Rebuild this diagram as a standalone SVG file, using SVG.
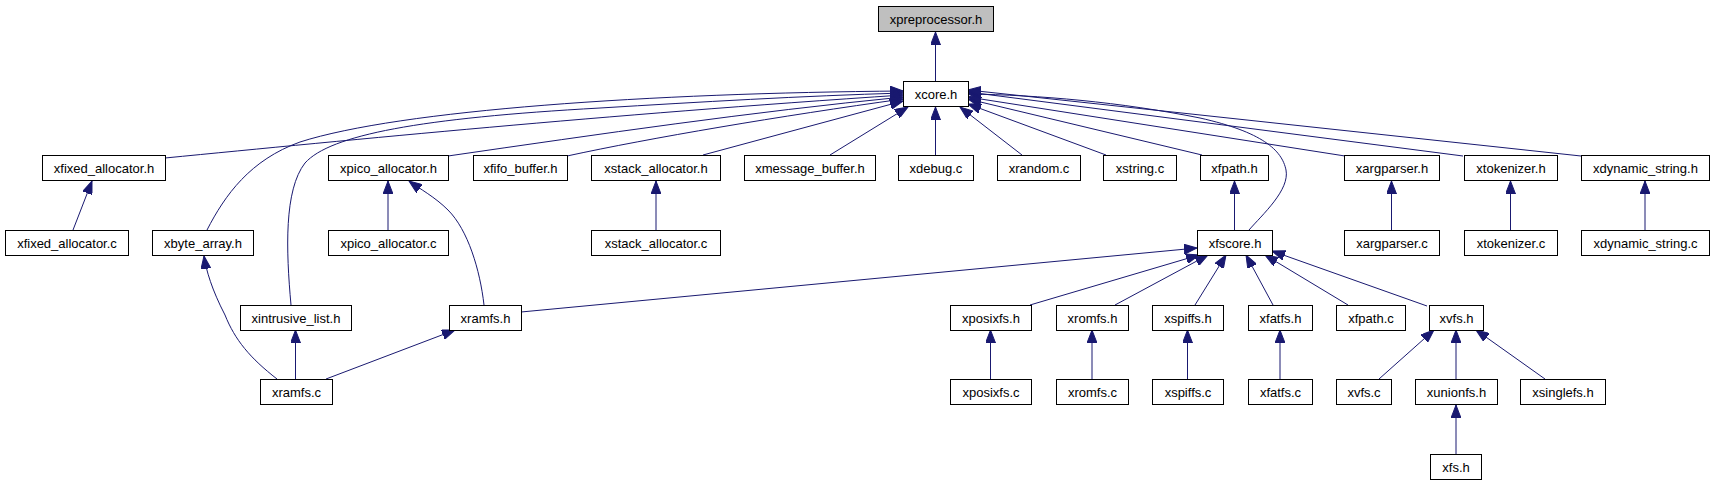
<svg xmlns="http://www.w3.org/2000/svg" width="1715" height="485" viewBox="0 0 1715 485">
<style>
.n rect{fill:#ffffff;stroke:#000000;stroke-width:1}
.n text{font-family:"Liberation Sans",Arial,sans-serif;font-size:13px;fill:#000000;text-anchor:middle}
#edges path{fill:none;stroke:#191970;stroke-width:1;marker-end:url(#arr)}
</style>
<defs>
<marker id="arr" markerUnits="userSpaceOnUse" markerWidth="14" markerHeight="10" refX="13" refY="5" orient="auto">
<path d="M0,0 L13,5 L0,10 z" fill="#191970" stroke="#191970" stroke-width="1"/>
</marker>
</defs>
<rect width="1715" height="485" fill="#ffffff"/>
<g id="edges">
<path d="M935.5,81 V32"/>
<path d="M207,230 C225,195 250,160 300,142 C400,110 650,93 903,91"/>
<path d="M291,305 C286,250 284,190 305,163 C330,135 420,118 600,108 C700,102 800,96 903,93"/>
<path d="M165,158 C350,140 600,115 903,95"/>
<path d="M448,156 C600,134 750,112 903,97"/>
<path d="M567,156 C650,138 780,116 903,99"/>
<path d="M703,155 L903,101"/>
<path d="M830,155 L908,107"/>
<path d="M935.5,155 V107"/>
<path d="M1022,155 L960,107"/>
<path d="M1106,155 L968,104"/>
<path d="M1202,155 L968,99"/>
<path d="M1249,230 C1262,215 1290,190 1286,170 C1282,150 1262,132 1200,118 C1120,102 1040,95 968,94"/>
<path d="M1345,156 L968,97"/>
<path d="M1463,156 L968,92"/>
<path d="M1581,156 L968,90"/>
<path d="M73,230 L92,181"/>
<path d="M388,230 V181"/>
<path d="M656,230 V181"/>
<path d="M484,305 C480,270 468,230 448,210 C435,197 420,189 409,181"/>
<path d="M277,379 C250,358 235,340 225,315 C212,290 206,270 204,256"/>
<path d="M295.5,379 V330"/>
<path d="M326,379 L455,330"/>
<path d="M521,312 L1197,248"/>
<path d="M1030,305 L1199,255"/>
<path d="M1115,305 L1208,255"/>
<path d="M1195,305 L1226,255"/>
<path d="M1273,305 L1246,255"/>
<path d="M1348,305 L1265,255"/>
<path d="M1427,306 L1272,251"/>
<path d="M990.5,379 V330"/>
<path d="M1092,379 V330"/>
<path d="M1187.5,379 V330"/>
<path d="M1280,379 V330"/>
<path d="M1379,379 L1434,330"/>
<path d="M1456,379 V330"/>
<path d="M1545,379 L1476,330"/>
<path d="M1456,454 V405"/>
<path d="M1234.5,230 V181"/>
<path d="M1391.5,230 V181"/>
<path d="M1510.5,230 V181"/>
<path d="M1645,230 V181"/>
</g>
<g id="xpreprocessor_h" class="n"><rect x="878.5" y="6.5" width="115" height="25" style="fill:#bfbfbf"/><text x="936" y="23.5">xpreprocessor.h</text></g>
<g id="xcore_h" class="n"><rect x="903.5" y="81.5" width="65" height="25"/><text x="936" y="98.5">xcore.h</text></g>
<g id="xfixed_allocator_h" class="n"><rect x="42.5" y="155.5" width="123" height="25"/><text x="104" y="172.5">xfixed_allocator.h</text></g>
<g id="xpico_allocator_h" class="n"><rect x="328.5" y="155.5" width="120" height="25"/><text x="388.5" y="172.5">xpico_allocator.h</text></g>
<g id="xfifo_buffer_h" class="n"><rect x="473.5" y="155.5" width="94" height="25"/><text x="520.5" y="172.5">xfifo_buffer.h</text></g>
<g id="xstack_allocator_h" class="n"><rect x="591.5" y="155.5" width="129" height="25"/><text x="656" y="172.5">xstack_allocator.h</text></g>
<g id="xmessage_buffer_h" class="n"><rect x="744.5" y="155.5" width="131" height="25"/><text x="810" y="172.5">xmessage_buffer.h</text></g>
<g id="xdebug_c" class="n"><rect x="898.5" y="155.5" width="75" height="25"/><text x="936" y="172.5">xdebug.c</text></g>
<g id="xrandom_c" class="n"><rect x="997.5" y="155.5" width="83" height="25"/><text x="1039" y="172.5">xrandom.c</text></g>
<g id="xstring_c" class="n"><rect x="1103.5" y="155.5" width="73" height="25"/><text x="1140" y="172.5">xstring.c</text></g>
<g id="xfpath_h" class="n"><rect x="1200.5" y="155.5" width="68" height="25"/><text x="1234.5" y="172.5">xfpath.h</text></g>
<g id="xargparser_h" class="n"><rect x="1344.5" y="155.5" width="95" height="25"/><text x="1392" y="172.5">xargparser.h</text></g>
<g id="xtokenizer_h" class="n"><rect x="1464.5" y="155.5" width="93" height="25"/><text x="1511" y="172.5">xtokenizer.h</text></g>
<g id="xdynamic_string_h" class="n"><rect x="1581.5" y="155.5" width="128" height="25"/><text x="1645.5" y="172.5">xdynamic_string.h</text></g>
<g id="xfixed_allocator_c" class="n"><rect x="5.5" y="230.5" width="123" height="25"/><text x="67" y="247.5">xfixed_allocator.c</text></g>
<g id="xbyte_array_h" class="n"><rect x="152.5" y="230.5" width="101" height="25"/><text x="203" y="247.5">xbyte_array.h</text></g>
<g id="xpico_allocator_c" class="n"><rect x="328.5" y="230.5" width="120" height="25"/><text x="388.5" y="247.5">xpico_allocator.c</text></g>
<g id="xstack_allocator_c" class="n"><rect x="591.5" y="230.5" width="129" height="25"/><text x="656" y="247.5">xstack_allocator.c</text></g>
<g id="xfscore_h" class="n"><rect x="1197.5" y="230.5" width="75" height="25"/><text x="1235" y="247.5">xfscore.h</text></g>
<g id="xargparser_c" class="n"><rect x="1344.5" y="230.5" width="95" height="25"/><text x="1392" y="247.5">xargparser.c</text></g>
<g id="xtokenizer_c" class="n"><rect x="1464.5" y="230.5" width="93" height="25"/><text x="1511" y="247.5">xtokenizer.c</text></g>
<g id="xdynamic_string_c" class="n"><rect x="1581.5" y="230.5" width="128" height="25"/><text x="1645.5" y="247.5">xdynamic_string.c</text></g>
<g id="xintrusive_list_h" class="n"><rect x="240.5" y="305.5" width="111" height="25"/><text x="296" y="322.5">xintrusive_list.h</text></g>
<g id="xramfs_h" class="n"><rect x="449.5" y="305.5" width="72" height="25"/><text x="485.5" y="322.5">xramfs.h</text></g>
<g id="xposixfs_h" class="n"><rect x="950.5" y="305.5" width="81" height="25"/><text x="991" y="322.5">xposixfs.h</text></g>
<g id="xromfs_h" class="n"><rect x="1056.5" y="305.5" width="72" height="25"/><text x="1092.5" y="322.5">xromfs.h</text></g>
<g id="xspiffs_h" class="n"><rect x="1152.5" y="305.5" width="71" height="25"/><text x="1188" y="322.5">xspiffs.h</text></g>
<g id="xfatfs_h" class="n"><rect x="1248.5" y="305.5" width="64" height="25"/><text x="1280.5" y="322.5">xfatfs.h</text></g>
<g id="xfpath_c" class="n"><rect x="1336.5" y="305.5" width="69" height="25"/><text x="1371" y="322.5">xfpath.c</text></g>
<g id="xvfs_h" class="n"><rect x="1429.5" y="305.5" width="54" height="25"/><text x="1456.5" y="322.5">xvfs.h</text></g>
<g id="xramfs_c" class="n"><rect x="260.5" y="379.5" width="72" height="25"/><text x="296.5" y="396.5">xramfs.c</text></g>
<g id="xposixfs_c" class="n"><rect x="950.5" y="379.5" width="81" height="25"/><text x="991" y="396.5">xposixfs.c</text></g>
<g id="xromfs_c" class="n"><rect x="1056.5" y="379.5" width="72" height="25"/><text x="1092.5" y="396.5">xromfs.c</text></g>
<g id="xspiffs_c" class="n"><rect x="1152.5" y="379.5" width="71" height="25"/><text x="1188" y="396.5">xspiffs.c</text></g>
<g id="xfatfs_c" class="n"><rect x="1248.5" y="379.5" width="64" height="25"/><text x="1280.5" y="396.5">xfatfs.c</text></g>
<g id="xvfs_c" class="n"><rect x="1336.5" y="379.5" width="55" height="25"/><text x="1364" y="396.5">xvfs.c</text></g>
<g id="xunionfs_h" class="n"><rect x="1415.5" y="379.5" width="82" height="25"/><text x="1456.5" y="396.5">xunionfs.h</text></g>
<g id="xsinglefs_h" class="n"><rect x="1520.5" y="379.5" width="85" height="25"/><text x="1563" y="396.5">xsinglefs.h</text></g>
<g id="xfs_h" class="n"><rect x="1430.5" y="454.5" width="51" height="25"/><text x="1456" y="471.5">xfs.h</text></g>
</svg>
